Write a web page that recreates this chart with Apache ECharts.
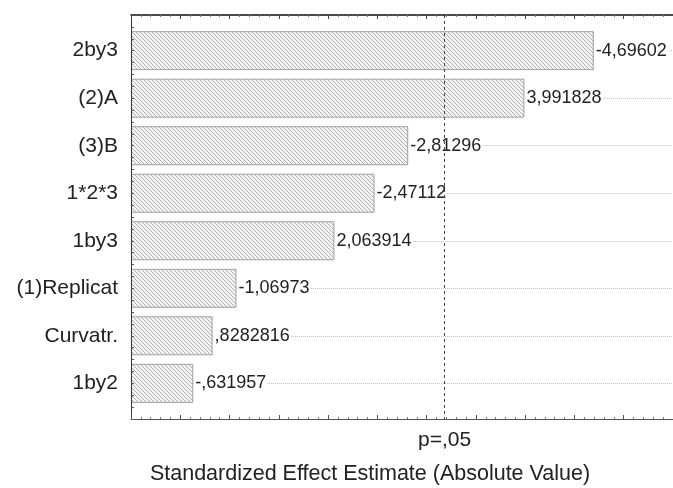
<!DOCTYPE html>
<html>
<head>
<meta charset="utf-8">
<script src="https://cdn.jsdelivr.net/npm/echarts@6/dist/echarts.min.js"></script>
<style>html,body{margin:0;padding:0;background:#fff}#c{width:673px;height:488px}</style>
</head>
<body>
<div id="c"></div>
<script>
// ---- data ----
var categories = ['2by3', '(2)A', '(3)B', '1*2*3', '1by3', '(1)Replicat', 'Curvatr.', '1by2'];
var effects = [4.69602, 3.991828, 2.81296, 2.47112, 2.063914, 1.06973, 0.8282816, 0.631957];
var effectLabels = ['-4,69602', '3,991828', '-2,81296', '-2,47112', '2,063914', '-1,06973', ',8282816', '-,631957'];
var pCritical = 3.182;
var pLabel = 'p=,05';
var xTitle = 'Standardized Effect Estimate (Absolute Value)';

// ---- hatch pattern ----
var pc = document.createElement('canvas');
pc.width = 4; pc.height = 4;
var g = pc.getContext('2d');
g.fillStyle = '#f4f4f4';
g.fillRect(0, 0, 4, 4);
g.strokeStyle = '#b0b0b0';
g.lineWidth = 1;
g.beginPath();
g.moveTo(-1, -1); g.lineTo(5, 5);
g.moveTo(-1, 3); g.lineTo(1, 5);
g.moveTo(3, -1); g.lineTo(5, 1);
g.stroke();

var FONT = "'Liberation Sans', Arial, sans-serif";
var unit = 404 / 8.5;
var chart = echarts.init(document.getElementById('c'), null, {renderer: 'canvas'});
var xBase = {type: 'value', min: 0, max: 5.5, interval: 0.5};
chart.setOption({
  animation: false,
  grid: [
    {left: 131, right: -3, top: 15, bottom: 69},
    {left: 131, right: -3, top: 15 + 0.25 * unit, bottom: 69 + 0.25 * unit},
    {left: 131, right: -3, top: 15 + 0.75 * unit, bottom: 69 + 0.75 * unit}
  ],
  xAxis: [
    Object.assign({}, xBase, {gridIndex: 0, position: 'bottom', z: 5,
      axisLine: {show: true, onZero: false, lineStyle: {color: '#555', width: 1}},
      axisTick: {show: true, inside: true, length: 4, lineStyle: {color: '#555'}},
      minorTick: {show: true, splitNumber: 5, length: 2, lineStyle: {color: '#777'}},
      axisLabel: {show: false}, splitLine: {show: false}}),
    Object.assign({}, xBase, {gridIndex: 0, position: 'top', z: 5,
      axisLine: {show: true, onZero: false, lineStyle: {color: '#111', width: 1.5}},
      axisTick: {show: true, inside: true, length: 4, lineStyle: {color: '#444'}},
      minorTick: {show: true, splitNumber: 5, length: 2, lineStyle: {color: '#777'}},
      axisLabel: {show: false}, splitLine: {show: false}}),
    Object.assign({}, xBase, {gridIndex: 0, position: 'bottom',
      axisLine: {show: false, onZero: false}, axisTick: {show: false}, splitLine: {show: false},
      axisLabel: {show: true, customValues: [pCritical], formatter: function () { return pLabel; },
        fontSize: 21, fontFamily: FONT, color: '#222', margin: 11}}),
    Object.assign({}, xBase, {gridIndex: 1, show: false}),
    Object.assign({}, xBase, {gridIndex: 2, show: false})
  ],
  yAxis: [
    {gridIndex: 0, type: 'value', inverse: true, min: -0.75, max: 7.75, interval: 0.25, z: 5,
      axisLine: {show: true, onZero: false, lineStyle: {color: '#333', width: 1}},
      axisTick: {show: true, inside: true, length: 3, lineStyle: {color: '#555'}},
      axisLabel: {show: false}, splitLine: {show: false}},
    {gridIndex: 1, type: 'category', data: categories, inverse: true,
      axisLine: {show: false}, axisTick: {show: false}, splitLine: {show: false},
      axisLabel: {show: true, fontSize: 21, fontFamily: FONT, color: '#222', margin: 13}},
    {gridIndex: 2, type: 'value', inverse: true, min: 0, max: 7, interval: 1,
      axisLine: {show: false}, axisTick: {show: false}, axisLabel: {show: false},
      splitLine: {show: true, lineStyle: {type: 'dotted', color: '#c4c4c4', width: 1}}}
  ],
  series: [
    {type: 'bar', xAxisIndex: 3, yAxisIndex: 1, data: effects, barWidth: '82%', z: 3,
      itemStyle: {color: {image: pc, repeat: 'repeat'}, borderColor: '#a0a0a0', borderWidth: 1},
      label: {show: true, position: 'right', distance: 1,
        formatter: function (p) { return effectLabels[p.dataIndex]; },
        fontSize: 18, fontFamily: FONT, color: '#222', backgroundColor: '#fff', padding: [1, 1]}},
    {type: 'line', xAxisIndex: 0, yAxisIndex: 0, data: [], z: 4,
      markLine: {silent: true, symbol: ['none', 'none'], label: {show: false},
        lineStyle: {type: [3, 3], color: '#444', width: 1},
        data: [{xAxis: pCritical}]}}
  ],
  graphic: [{type: 'text', x: 370, y: 474,
    style: {text: xTitle, font: '21.5px ' + FONT, fill: '#222', textAlign: 'center', textVerticalAlign: 'middle'}}]
});
</script>
</body>
</html>
